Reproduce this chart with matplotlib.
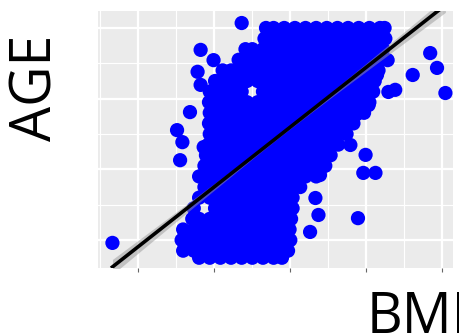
import matplotlib
matplotlib.use("Agg")
import matplotlib.pyplot as plt
import numpy as np

# ---- data ----
age_rows = [80, 77, 74, 71, 68, 65, 62, 59, 56, 53, 50, 47, 44, 41, 38, 35, 32, 29, 26, 23, 20, 17, 15]
bmi_rows = [
    [36.8, 37.8, 39.2, 40.6, 42.0, 43.4, 44.8, 46.2, 47.6, 49.0, 50.4, 51.8, 52.4],
    [36.6, 37.1, 38.5, 39.9, 41.3, 42.7, 44.1, 45.5, 46.9, 48.3, 49.7, 51.1, 52.5],
    [34.1, 35.0, 36.4, 37.8, 39.2, 40.6, 42.0, 43.4, 44.8, 46.2, 47.6, 49.0, 50.4, 51.8, 52.2],
    [33.2, 34.3, 35.7, 37.1, 38.5, 39.9, 41.3, 42.7, 44.1, 45.5, 46.9, 48.3, 49.7, 51.1, 51.8],
    [31.1, 32.2, 33.6, 35.0, 36.4, 37.8, 39.2, 40.6, 42.0, 43.4, 44.8, 46.2, 47.6, 49.0, 50.4, 51.6],
    [30.1, 31.5, 32.9, 34.3, 35.7, 37.1, 38.5, 39.9, 41.3, 42.7, 44.1, 45.5, 46.9, 48.3, 49.7, 51.1],
    [29.4, 30.8, 32.2, 33.6, 36.4, 37.8, 39.2, 40.6, 42.0, 43.4, 44.8, 46.2, 47.6, 49.0, 50.4, 50.9],
    [29.3, 30.1, 31.5, 32.9, 34.3, 35.7, 37.1, 38.5, 39.9, 41.3, 42.7, 44.1, 45.5, 46.9, 48.3, 49.7, 50.4],
    [29.4, 30.8, 32.2, 33.6, 35.0, 36.4, 37.8, 39.2, 40.6, 42.0, 43.4, 44.8, 46.2, 47.6, 49.0, 49.7],
    [29.3, 30.1, 31.5, 32.9, 34.3, 35.7, 37.1, 38.5, 39.9, 41.3, 42.7, 44.1, 45.5, 46.9, 48.3],
    [29.4, 30.8, 32.2, 33.6, 35.0, 36.4, 37.8, 39.2, 40.6, 42.0, 43.4, 44.8, 46.2, 47.4],
    [29.2, 30.1, 31.5, 32.9, 34.3, 35.7, 37.1, 38.5, 39.9, 41.3, 42.7, 44.1, 45.5, 46.3],
    [28.9, 29.4, 30.8, 32.2, 33.6, 35.0, 36.4, 37.8, 39.2, 40.6, 42.0, 43.4, 44.8, 45.3],
    [28.7, 30.1, 31.5, 32.9, 34.3, 35.7, 37.1, 38.5, 39.9, 41.3, 42.7, 44.1, 44.6],
    [28.0, 29.4, 30.8, 32.2, 33.6, 35.0, 36.4, 37.8, 39.2, 40.6, 42.0, 43.4],
    [28.7, 30.1, 31.5, 32.9, 34.3, 35.7, 37.1, 38.5, 39.9, 41.3],
    [28.0, 29.4, 30.8, 32.2, 33.6, 35.0, 36.4, 37.8, 39.2, 40.3],
    [27.3, 30.1, 31.5, 32.9, 34.3, 35.7, 37.1, 38.5, 39.9, 40.3],
    [27.1, 28.0, 29.4, 30.8, 32.2, 33.6, 35.0, 36.4, 37.8, 39.2, 40.1],
    [25.9, 27.3, 28.7, 30.1, 31.5, 32.9, 34.3, 35.7, 37.1, 38.5, 39.9],
    [25.7, 26.6, 28.0, 29.4, 30.8, 32.2, 33.6, 35.0, 36.4, 37.8, 39.2, 40.0],
    [25.9, 27.3, 28.7, 30.1, 31.5, 32.9, 34.3, 35.7, 37.1, 38.5, 39.7],
    [28.0, 29.4, 30.8, 32.2, 33.6, 35.0, 36.4, 37.8, 38.9],
]
outlier_bmi = [33.6, 28.2, 29.9, 27.8, 28.2, 26.8, 25.1, 25.8, 28.6, 25.5, 47.9, 49.9, 49.6, 51.2,
               43.9, 43.3, 43.7, 48.9, 42.6, 58.4, 59.3, 56.1, 52.9, 53.8, 60.4, 52.8, 51.4, 50.1,
               50.3, 48.6, 16.6]
outlier_age = [81.4, 73.8, 70.9, 67.6, 63.9, 56.2, 51.1, 47.7, 46.3, 42.6, 46.9, 44.1, 39.0, 39.0,
               38.4, 31.9, 27.1, 26.2, 22.3, 72.9, 68.7, 66.7, 61.9, 62.5, 61.6, 70.9, 66.7, 61.0,
               58.2, 55.4, 19.2]

# fitted line
fit_slope = 1.6915
fit_intercept = -15.68
band_center_halfwidth = 0.45
band_spread = 4.8

x_major = [20, 30, 40, 50, 60]
x_minor = [15, 25, 35, 45, 55]
y_major = [20, 40, 60, 80]
y_minor = [30, 50, 70]

# ---- assemble ----
bmi = []
age = []
for a, row in zip(age_rows, bmi_rows):
    for b in row:
        bmi.append(b)
        age.append(a)
bmi += outlier_bmi
age += outlier_age
bmi = np.array(bmi)
age = np.array(age)

fig = plt.figure(figsize=(4.6, 3.36), dpi=100)
ax = fig.add_axes([98 / 460, 1 - 268 / 336, (453 - 98) / 460, (268 - 11) / 336])
ax.set_facecolor("#EBEBEB")
ax.set_xlim(14.7, 61.4)
ax.set_ylim(12.1, 84.8)

for v in x_minor:
    ax.axvline(v, color="white", lw=0.8, zorder=0)
for v in y_minor:
    ax.axhline(v, color="white", lw=0.8, zorder=0)
for v in x_major:
    ax.axvline(v, color="white", lw=1.6, zorder=0)
for v in y_major:
    ax.axhline(v, color="white", lw=1.6, zorder=0)

ax.scatter(bmi, age, s=105, color="#0000FF", edgecolors="none", zorder=2)

xs = np.linspace(bmi.min(), bmi.max(), 200)
xm = bmi.mean()
ys = fit_intercept + fit_slope * xs
half = band_center_halfwidth * np.sqrt(1 + ((xs - xm) / band_spread) ** 2)
ax.fill_between(xs, ys - half, ys + half, color="#999999", alpha=0.5, lw=0, zorder=3)
ax.plot(xs, ys, color="black", lw=2.6, zorder=4)

for s in ax.spines.values():
    s.set_visible(False)
ax.set_xticks(x_major)
ax.set_xticklabels([])
ax.set_yticks([])
ax.tick_params(axis="x", length=3, width=0.8, color="#666666")

fig.text(37 / 460, 1 - 88 / 336, "AGE", rotation=90, ha="center", va="center",
         fontsize=40, family=["Open Sans", "DejaVu Sans"], color="black")
fig.text(367 / 460, 1 - 333 / 336, "BMI", ha="left", va="baseline",
         fontsize=40, family=["Open Sans", "DejaVu Sans"], color="black")

fig.savefig("out.png", dpi=100)
